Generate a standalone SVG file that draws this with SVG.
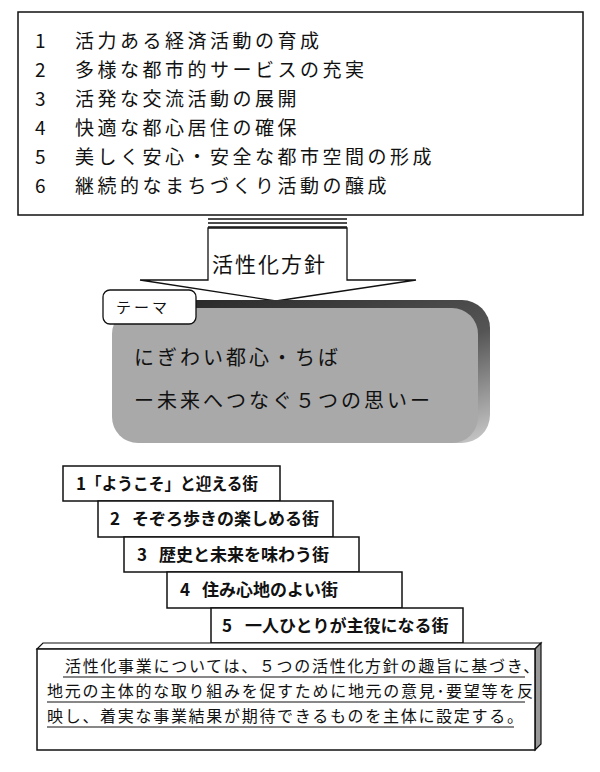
<svg xmlns="http://www.w3.org/2000/svg" width="600" height="772" viewBox="0 0 600 772">
<defs>
<style>
.jp{font-family:"Noto Sans CJK JP","Noto Sans",sans-serif;fill:#111}
.lst{font-size:19px;letter-spacing:3.5px}
.st{font-size:17px;font-weight:bold}
.bx{fill:#fff;stroke:#111;stroke-width:1.5}
.bt{font-size:16px;letter-spacing:1.7px}
.ul{stroke:#111;stroke-width:1.2}
</style>
<linearGradient id="sh" x1="0" y1="0" x2="1" y2="1">
<stop offset="0" stop-color="#222"/><stop offset="0.6" stop-color="#555"/><stop offset="1" stop-color="#ccc"/>
</linearGradient>
</defs>
<g id="list">
<rect class="bx" x="18" y="12" width="565" height="203"/>
<g class="jp lst">
<text x="35" y="48">1</text><text x="75" y="48">活力ある経済活動の育成</text>
<text x="35" y="77">2</text><text x="75" y="77">多様な都市的サービスの充実</text>
<text x="35" y="106">3</text><text x="75" y="106">活発な交流活動の展開</text>
<text x="35" y="135">4</text><text x="75" y="135">快適な都心居住の確保</text>
<text x="35" y="164">5</text><text x="75" y="164">美しく安心・安全な都市空間の形成</text>
<text x="35" y="193">6</text><text x="75" y="193">継続的なまちづくり活動の醸成</text>
</g>
</g>
<g id="connectors">
<path d="M208,228 L208,280 L140,280 L276,301 L416,280 L347,280 L347,228 Z" fill="#fff" stroke="#111" stroke-width="1.3"/>
<line x1="208" y1="219" x2="347" y2="219" stroke="#111" stroke-width="1.5"/>
<line x1="208" y1="223" x2="347" y2="223" stroke="#111" stroke-width="1.5"/>
<line x1="208" y1="227" x2="347" y2="227" stroke="#111" stroke-width="1.5"/>
<text class="jp" x="212" y="272" font-size="21" letter-spacing="2">活性化方針</text>
</g>
<g id="theme">
<rect x="118" y="300" width="372" height="143" rx="28" fill="url(#sh)"/>
<rect x="112" y="308" width="366" height="135" rx="26" fill="#a9a9a9"/>
<text class="jp" x="134" y="365" font-size="20" letter-spacing="3">にぎわい都心・ちば</text>
<text class="jp" x="134" y="408" font-size="20" letter-spacing="3">ー未来へつなぐ５つの思いー</text>
</g>
<g id="theme-label">
<rect x="103" y="290" width="93" height="34" rx="7" fill="#fff" stroke="#111" stroke-width="1.3"/>
<text class="jp" x="116" y="313" font-size="15" letter-spacing="3">テーマ</text>
</g>
<g id="step1"><rect class="bx" x="63" y="466" width="217" height="35"/><text class="jp st" x="76" y="490">1</text><text class="jp st" x="86" y="490" textLength="172" lengthAdjust="spacingAndGlyphs">「ようこそ」と迎える街</text></g>
<g id="step2"><rect class="bx" x="98" y="501" width="235" height="36"/><text class="jp st" x="110" y="525">2</text><text class="jp st" x="132" y="525">そぞろ歩きの楽しめる街</text></g>
<g id="step3"><rect class="bx" x="124" y="537" width="235" height="35"/><text class="jp st" x="137" y="561">3</text><text class="jp st" x="159" y="561">歴史と未来を味わう街</text></g>
<g id="step4"><rect class="bx" x="167" y="572" width="235" height="36"/><text class="jp st" x="180" y="596">4</text><text class="jp st" x="202" y="596">住み心地のよい街</text></g>
<g id="step5"><rect class="bx" x="211" y="608" width="252" height="35"/><text class="jp st" x="222" y="632">5</text><text class="jp st" x="245" y="632">一人ひとりが主役になる街</text></g>
<g id="policy">
<path d="M37,649 L43,643 L541,643 L535,649 Z" fill="#fff" stroke="#111" stroke-width="1.2"/>
<path d="M535,649 L541,643 L541,744 L535,750 Z" fill="#999" stroke="#111" stroke-width="1.2"/>
<rect class="bx" x="37" y="649" width="498" height="101"/>
<g class="jp bt">
<text x="65" y="672">活性化事業については、５つの活性化方針の趣旨に基づき、</text>
<text x="47" y="697">地元の主体的な取り組みを促すために地元の意見･要望等を反</text>
<text x="47" y="722">映し、着実な事業結果が期待できるものを主体に設定する。</text>
</g>
<line class="ul" x1="63" y1="677" x2="525" y2="677"/>
<line class="ul" x1="47" y1="702" x2="525" y2="702"/>
<line class="ul" x1="47" y1="727" x2="514" y2="727"/>
</g>
</svg>
